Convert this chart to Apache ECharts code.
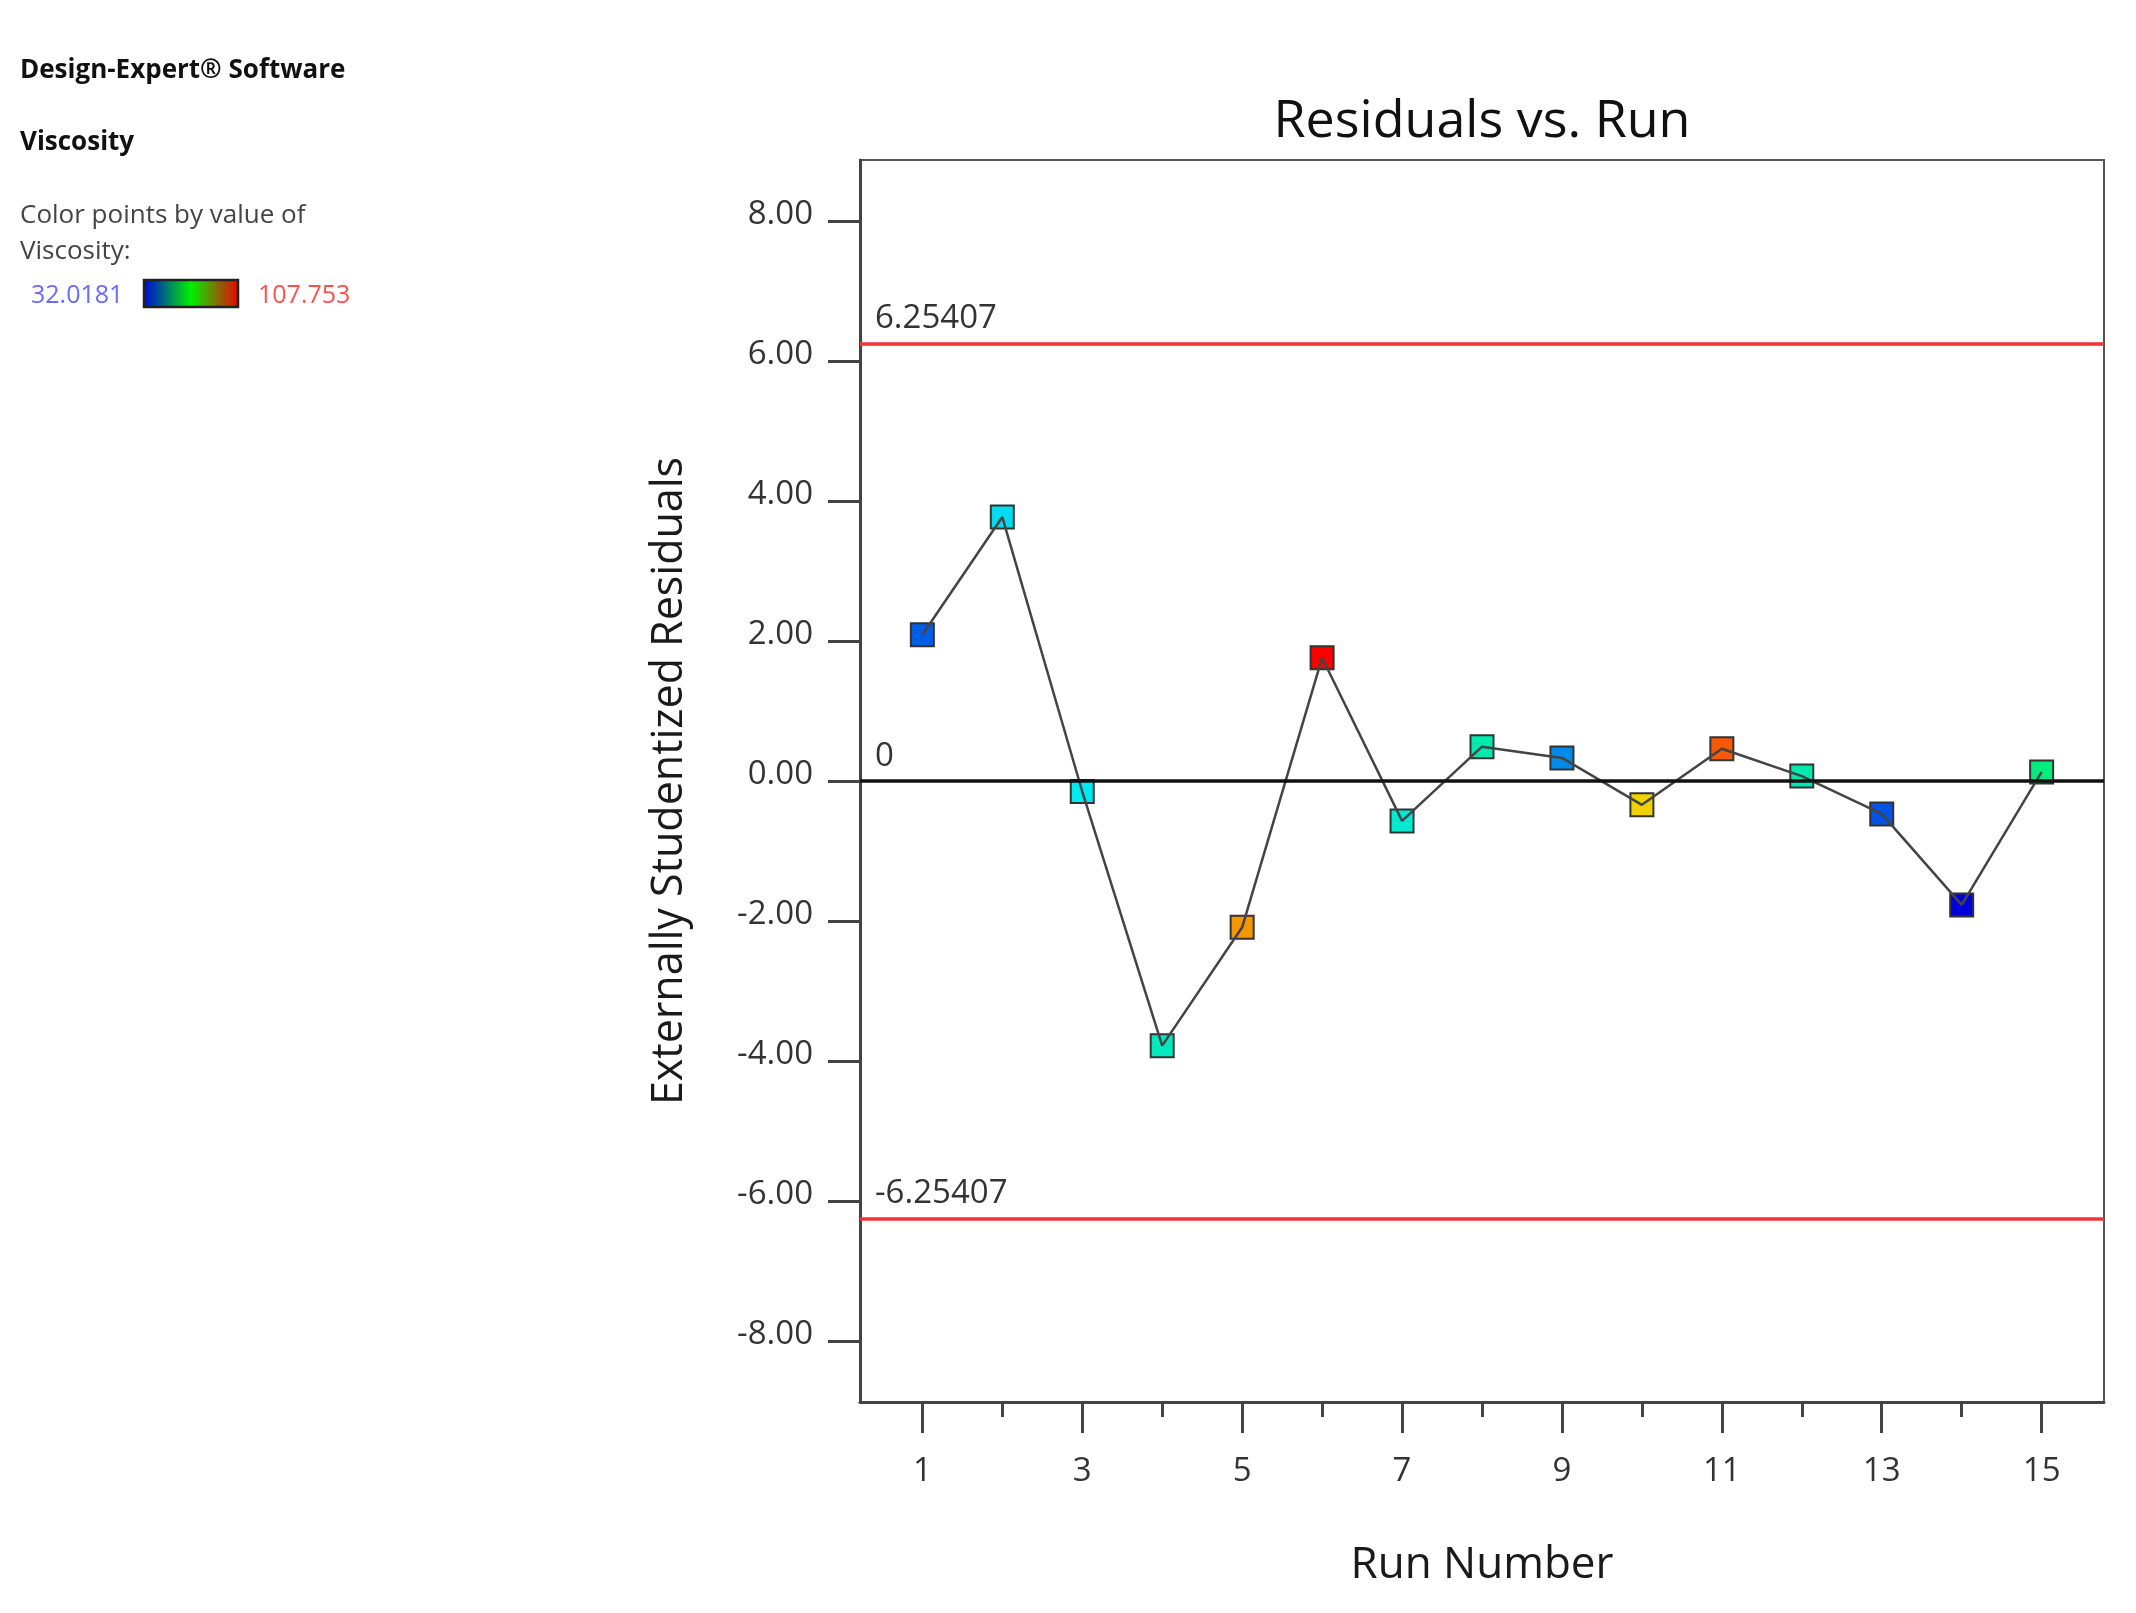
<!DOCTYPE html>
<html>
<head>
<meta charset="utf-8">
<script src="https://cdn.jsdelivr.net/npm/echarts@6/dist/echarts.min.js"></script>
<style>
html,body{margin:0;padding:0;background:#fff;}
#chart{width:2136px;height:1613px;}
</style>
</head>
<body>
<div id="chart"></div>
<script>
// ---- data ----
const runs = [1,2,3,4,5,6,7,8,9,10,11,12,13,14,15];
const residuals = [2.09, 3.77, -0.15, -3.78, -2.09, 1.76, -0.57, 0.49, 0.33, -0.34, 0.46, 0.07, -0.47, -1.77, 0.13];
// viscosity (colour variable), estimated from point colours
const viscosity = [39.6, 50.0, 51.0, 56.3, 95.0, 107.75, 54.1, 57.9, 43.4, 90.0, 100.2, 58.2, 38.8, 32.0, 63.3];
const viscMin = 32.0181, viscMax = 107.753;
const limitValues = [6.25407, -6.25407];
const zeroValue = 0;
const yTicks = [-8,-6,-4,-2,0,2,4,6,8];
const xMajorTicks = [1,3,5,7,9,11,13,15];
const xMinorTicks = [2,4,6,8,10,12,14];

const FONT = 'Open Sans';
const chart = echarts.init(document.getElementById('chart'));

const points = runs.map((r,i)=>[r, residuals[i], viscosity[i]]);

const baseX = {
  type:'value', min:0.22, max:15.78, position:'bottom',
  splitLine:{show:false}
};

const option = {
  backgroundColor:'#fff',
  animation:false,
  grid:{left:860, right:32, top:160, bottom:211, show:true, borderColor:'#555', borderWidth:2, containLabel:false},
  visualMap:{
    show:false, type:'continuous', seriesIndex:0, dimension:2,
    min:viscMin, max:viscMax,
    inRange:{color:['#0000dd','#00e8f0','#00ee40','#f0e000','#ff0000']}
  },
  xAxis:[
    Object.assign({}, baseX, {
      name:'Run Number', nameLocation:'middle', nameGap:163,
      nameTextStyle:{fontFamily:FONT, fontSize:44, color:'#1a1a1a', verticalAlign:'middle'},
      axisLine:{show:true, onZero:false, lineStyle:{color:'#444', width:3}},
      axisTick:{show:true, inside:false, length:31, customValues:xMajorTicks, lineStyle:{color:'#444', width:3}},
      axisLabel:{show:true, customValues:xMajorTicks, margin:53, fontFamily:FONT, fontSize:33, color:'#333'}
    }),
    Object.assign({}, baseX, {
      axisLine:{show:false, onZero:false},
      axisTick:{show:true, inside:false, length:15, customValues:xMinorTicks, lineStyle:{color:'#444', width:3}},
      axisLabel:{show:false}
    })
  ],
  yAxis:{
    type:'value', min:-8.87, max:8.87,
    name:'Externally Studentized Residuals', nameLocation:'middle', nameGap:190, nameRotate:90,
    nameTextStyle:{fontFamily:FONT, fontSize:43, color:'#1a1a1a', verticalAlign:'middle'},
    splitLine:{show:false},
    axisLine:{show:true, onZero:false, lineStyle:{color:'#444', width:3}},
    axisTick:{show:true, inside:false, length:32, customValues:yTicks, lineStyle:{color:'#444', width:3}},
    axisLabel:{show:true, customValues:yTicks, margin:47, fontFamily:FONT, fontSize:33, color:'#333',
      verticalAlign:'bottom', lineHeight:13,
      formatter:(v)=>v.toFixed(2)}
  },
  series:[
    {
      type:'scatter', z:2, data:points, symbol:'rect', symbolSize:23,
      itemStyle:{borderColor:'#333', borderWidth:2, opacity:1},
      emphasis:{disabled:true}
    },
    {
      type:'line', z:3, data:points.map(p=>[p[0],p[1]]), showSymbol:false, symbol:'none',
      lineStyle:{color:'#444', width:2.5},
      markLine:{
        silent:true, symbol:['none','none'],
        data:[
          {yAxis:limitValues[0], lineStyle:{color:'#f23333', width:3.5, type:'solid'},
            label:{formatter:String(limitValues[0])}},
          {yAxis:limitValues[1], lineStyle:{color:'#f23333', width:3.5, type:'solid'},
            label:{formatter:String(limitValues[1])}},
          {yAxis:zeroValue, lineStyle:{color:'#111', width:3.5, type:'solid'},
            label:{formatter:String(zeroValue)}}
        ],
        label:{show:true, position:'insideStartTop', distance:[15,8], fontFamily:FONT, fontSize:33, color:'#333'}
      }
    }
  ],
  graphic:[
    {type:'text', x:1482, y:122, style:{text:'Residuals vs. Run', fontFamily:FONT, fontSize:52, fill:'#111', align:'center', verticalAlign:'middle'}},
    {type:'text', x:20, y:71, style:{text:'Design-Expert® Software', fontFamily:FONT, fontWeight:'bold', fontSize:26, fill:'#111', align:'left', verticalAlign:'middle'}},
    {type:'text', x:20, y:143, style:{text:'Viscosity', fontFamily:FONT, fontWeight:'bold', fontSize:26, fill:'#111', align:'left', verticalAlign:'middle'}},
    {type:'text', x:20, y:216, style:{text:'Color points by value of', fontFamily:FONT, fontSize:26, fill:'#444', align:'left', verticalAlign:'middle'}},
    {type:'text', x:20, y:252, style:{text:'Viscosity:', fontFamily:FONT, fontSize:26, fill:'#444', align:'left', verticalAlign:'middle'}},
    {type:'text', x:31, y:296, style:{text:String(viscMin), fontFamily:FONT, fontSize:25, fill:'#6a6aff', align:'left', verticalAlign:'middle'}},
    {type:'rect', shape:{x:144, y:280, width:94, height:27},
      style:{stroke:'#222', lineWidth:2.5,
        fill:new echarts.graphic.LinearGradient(0,0,1,0,[
          {offset:0, color:'#0000e0'},{offset:0.5, color:'#00f000'},{offset:1, color:'#f00000'}])}},
    {type:'text', x:258, y:296, style:{text:String(viscMax), fontFamily:FONT, fontSize:25, fill:'#ff5050', align:'left', verticalAlign:'middle'}}
  ]
};
chart.setOption(option);
</script>
</body>
</html>
